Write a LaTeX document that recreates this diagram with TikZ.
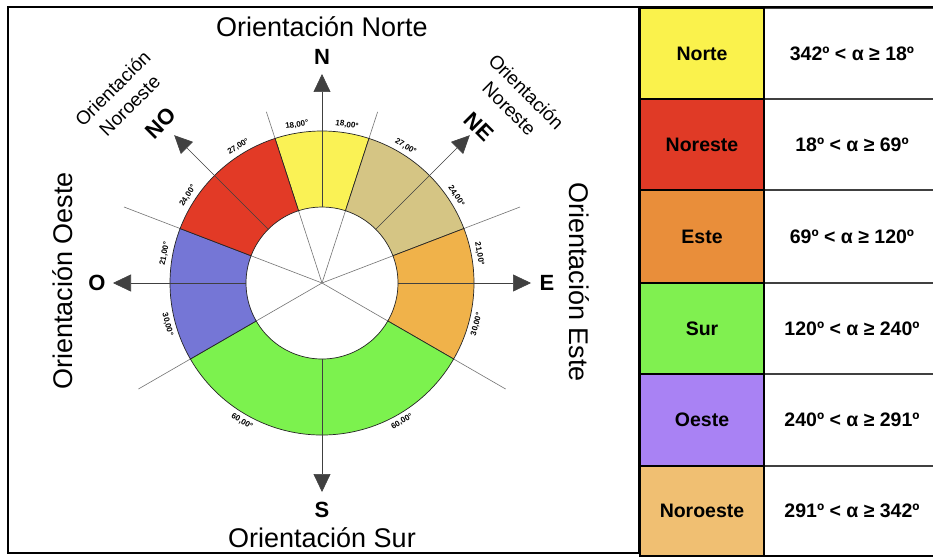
\documentclass[tikz,border=0pt]{standalone}
\usepackage{fontspec}
\setmainfont{Liberation Sans}
\usetikzlibrary{calc,arrows.meta}
\definecolor{cyel}{HTML}{FAF255}
\definecolor{cred}{HTML}{E23A26}
\definecolor{ctan}{HTML}{D5C584}
\definecolor{corg}{HTML}{F0B24A}
\definecolor{cgrn}{HTML}{7CF24E}
\definecolor{cpur}{HTML}{7576D6}
\definecolor{tyel}{HTML}{FAF24C}
\definecolor{tred}{HTML}{E03A26}
\definecolor{torg}{HTML}{E98E3A}
\definecolor{tgrn}{HTML}{80F050}
\definecolor{tpur}{HTML}{A982F4}
\definecolor{tlor}{HTML}{F0BF72}
\newcommand\ringsector[3]{%
  \path[sect, fill=#1] ($(C)+({90-(#2)}:152)$) arc[start angle={90-(#2)}, end angle={90-(#3)}, radius=152]
    -- ($(C)+({90-(#3)}:76)$) arc[start angle={90-(#3)}, end angle={90-(#2)}, radius=76] -- cycle;}
\begin{document}
\begin{tikzpicture}[x=1pt,y=1pt,
  sect/.style={draw=black!85, line width=0.7pt},
  guide/.style={draw=black!55, line width=0.6pt},
  axisline/.style={draw=black!75, line width=0.6pt, -{Triangle[length=18pt,width=17pt]}},
  dirlbl/.style={font=\fontsize{22}{24}\selectfont\bfseries, inner sep=0pt},
  big/.style={font=\fontsize{27}{30}\selectfont, inner sep=0pt},
  midlbl/.style={font=\fontsize{19}{24}\selectfont, inner sep=0pt, align=center},
  deg/.style={font=\fontsize{8}{9}\selectfont\bfseries, inner sep=0pt},
  ccell/.style={draw=black, line width=1.6pt, minimum width=124pt, inner sep=0pt, font=\fontsize{19.5}{22}\selectfont\bfseries},
  tcell/.style={draw=black!75, line width=1.3pt, minimum width=176pt, inner sep=0pt, font=\fontsize{19.5}{22}\selectfont\bfseries}
]
\useasboundingbox (0,0) rectangle (933,558);
\fill[white] (0,0) rectangle (933,558);
\coordinate (C) at (322,275);

% frame of the diagram
\draw[line width=2.2pt] (8,5) rectangle (639,551);

% boundary guide lines
\coordinate (g1) at ($(C)+(108:180)$);
\coordinate (g2) at ($(C)+(72:180)$);
\coordinate (g3) at ($(C)+(21:212)$);
\coordinate (g4) at ($(C)+(-30:212)$);
\coordinate (g5) at ($(C)+(-150:212)$);
\coordinate (g6) at ($(C)+(159:212)$);
\foreach \g in {g1,g2,g3,g4,g5,g6} \draw[guide] (C) -- (\g);

% ring sectors
\ringsector{cyel}{-18}{18}
\ringsector{ctan}{18}{69}
\ringsector{corg}{69}{120}
\ringsector{cgrn}{120}{240}
\ringsector{cpur}{240}{291}
\ringsector{cred}{291}{342}

% axis arrows
\foreach \nm/\t in {n/90, ne/45, e/0, s/-90, o/180, no/135} {
  \coordinate (\nm In) at ($(C)+(\t:76)$);
  \coordinate (\nm Tip) at ($(C)+(\t:209)$);
  \draw[axisline] (\nm In) -- (\nm Tip);
}

% direction letters
\node[dirlbl] (lN) at (322,501) {N};
\node[dirlbl] (lS) at (322,48) {S};
\node[dirlbl] (lE) at (547,275) {E};
\node[dirlbl] (lO) at (97,275) {O};
\node[dirlbl, rotate=45] (lNO) at (161,435) {NO};
\node[dirlbl, rotate=-45] (lNE) at (479,431) {NE};

% orientation titles
\node[big, anchor=base] (tN) at (322,521) {Orientación Norte};
\node[big, anchor=base] (tS) at (322,11) {Orientación Sur};
\node[big, anchor=base, rotate=90] (tO) at (72,277) {Orientación Oeste};
\node[big, anchor=base, rotate=-90] (tE) at (569,276) {Orientación Este};
\node[midlbl, rotate=45] (tNO) at (121,461) {Orientación\\Noroeste};
\node[midlbl, rotate=-45] (tNE) at (518,458) {Orientación\\Noreste};

% degree labels
\foreach \t/\r/\s [count=\i] in {121.5/31.5/27, 99/9/18, 81/-9/18, 58.5/-31.5/27, 33/-57/24, 10.5/-79.5/21,
   -15/75/30, -60/30/60, -120/-30/60, -165/-75/30, 169.5/79.5/21, 147/57/24}
  \node[deg, rotate=\r] (d\i) at ($(C)+(\t:160)$) {\s,00°};

% table
\node[tcell, minimum height=91pt] (v1) at (852,504.5) {342º < α ≥ 18º};
\node[tcell, minimum height=91pt] (v2) at (852,413.5) {18º < α ≥ 69º};
\node[tcell, minimum height=93pt] (v3) at (852,321.5) {69º < α ≥ 120º};
\node[tcell, minimum height=91pt] (v4) at (852,229.5) {120º < α ≥ 240º};
\node[tcell, minimum height=92pt] (v5) at (852,138) {240º < α ≥ 291º};
\node[tcell, minimum height=90pt] (v6) at (852,47) {291º < α ≥ 342º};
\node[ccell, fill=tyel, minimum height=91pt] (c1) at (702,504.5) {Norte};
\node[ccell, fill=tred, minimum height=91pt] (c2) at (702,413.5) {Noreste};
\node[ccell, fill=torg, minimum height=93pt] (c3) at (702,321.5) {Este};
\node[ccell, fill=tgrn, minimum height=91pt] (c4) at (702,229.5) {Sur};
\node[ccell, fill=tpur, minimum height=92pt] (c5) at (702,138) {Oeste};
\node[ccell, fill=tlor, minimum height=90pt] (c6) at (702,47) {Noroeste};
\draw[line width=2.2pt] (639,551) -- (940,551);
\draw[line width=2pt] (640,2) -- (940,2);
\end{tikzpicture}
\end{document}
